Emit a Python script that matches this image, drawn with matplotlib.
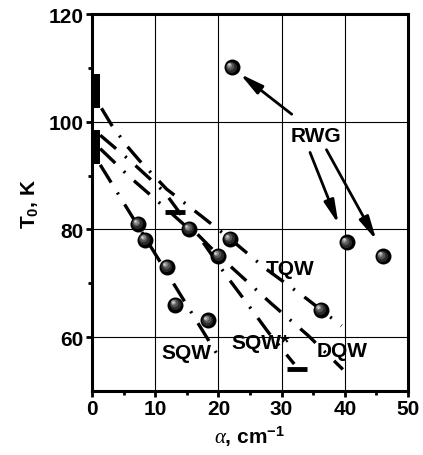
import matplotlib
matplotlib.use("Agg")
import matplotlib.pyplot as plt
from matplotlib.patches import Rectangle
from matplotlib import transforms

plt.rcParams['font.family'] = ['Liberation Sans', 'DejaVu Sans']
plt.rcParams['mathtext.fontset'] = 'custom'
plt.rcParams['mathtext.rm'] = 'Liberation Sans:bold'
plt.rcParams['mathtext.bf'] = 'Liberation Sans:bold'
plt.rcParams['mathtext.it'] = 'Liberation Serif:italic'
plt.rcParams['lines.scale_dashes'] = False

# ---------------- data ----------------
# measured points (alpha, T0)
sqw_x = [7.3, 8.4, 11.9, 13.2, 18.4]
sqw_y = [81.0, 78.1, 73.1, 66.0, 63.1]
other_x = [15.4, 20.0, 21.8, 36.2]
other_y = [80.1, 75.1, 78.2, 65.1]
rwg_x = [22.1, 40.3, 46.0]
rwg_y = [110.1, 77.6, 75.0]

# guide lines
sqw_line_x = [1.3, 20.5]
sqw_line_y = [92.0, 55.5]
sqws_line_x = [1.3, 6.0, 11.8, 17.4, 21.2, 24.2, 27.9, 32.0]
sqws_line_y = [95.0, 89.7, 83.8, 77.9, 71.5, 66.8, 60.9, 55.0]
dqw_line_x = [1.3, 6.2, 11.5, 15.5, 20.0, 28.4, 34.2, 39.7]
dqw_line_y = [97.5, 92.6, 86.9, 80.5, 75.2, 66.2, 60.3, 54.0]
tqw_line_x = [1.5, 3.1, 5.6, 7.5, 11.8, 17.4, 21.8, 27.5, 34.0, 39.5]
tqw_line_y = [102.5, 99.4, 95.4, 92.8, 87.5, 82.4, 78.3, 72.7, 67.1, 62.1]

# end bars (x0, x1, T)
bars = [(11.6, 14.7, 83.3), (30.8, 34.0, 54.1)]
# bars on the T axis (x0, width, T0, height)
axis_blocks = [(0.0, 1.3, 102.5, 6.3), (0.0, 1.3, 92.2, 6.3)]

# labels
labels = ["SQW", "SQW*", "DQW", "TQW", "RWG"]
label_x = [15.0, 26.6, 39.5, 31.3, 35.5]
label_y = [57.2, 59.0, 57.5, 72.8, 97.4]

# RWG arrows: (tail, head)
arrow_tails = [(31.6, 101.4), (34.5, 94.3), (37.1, 94.8)]
arrow_heads = [(23.4, 108.9), (39.0, 81.0), (45.0, 78.0)]

xticks = [0, 10, 20, 30, 40, 50]
yticks = [60, 80, 100, 120]

# ---------------- figure ----------------
fig = plt.figure(figsize=(4.23, 4.56), dpi=100)
ax = fig.add_axes([0.2175, 0.1404, 0.747, 0.8266])
ax.set_xlim(0, 50)
ax.set_ylim(50, 120)
ax.set_xticks(xticks)
ax.set_yticks(yticks)
ax.set_xticks([5, 15, 25, 35, 45], minor=True)
ax.set_yticks([70, 90, 110], minor=True)
ax.tick_params(which='major', direction='out', length=4, width=2, labelsize=15, pad=2)
ax.tick_params(which='minor', direction='out', length=3, width=2)
for lab in ax.get_xticklabels() + ax.get_yticklabels():
    lab.set_fontweight('bold')
for s in ax.spines.values():
    s.set_linewidth(2.2)
ax.grid(True, which='major', color='black', lw=0.8)
ax.set_axisbelow(True)

dash = (0, (15, 8.5, 1.5, 8.5))
lw = 2.4
for lx, ly in [(sqw_line_x, sqw_line_y), (sqws_line_x, sqws_line_y),
               (dqw_line_x, dqw_line_y), (tqw_line_x, tqw_line_y)]:
    ax.plot(lx, ly, color='black', lw=lw, linestyle=dash, solid_capstyle='butt',
            dash_capstyle='butt', zorder=3)

for x0, x1, t in bars:
    ax.plot([x0, x1], [t, t], color='black', lw=3.5, solid_capstyle='butt', zorder=3)

for x0, w, t0, h in axis_blocks:
    ax.add_patch(Rectangle((x0, t0), w, h, color='black', zorder=4, lw=0))

# sphere-like markers
allx = sqw_x + other_x + rwg_x
ally = sqw_y + other_y + rwg_y
ax.plot(allx, ally, 'o', color='black', ms=11.5, mec='black', mew=0, zorder=5)
for ms, col, off in [(8, '#2a2a2a', 0.6), (5.5, '#555555', 1.2), (3.5, '#8a8a8a', 1.7), (1.8, '#d0d0d0', 2.1)]:
    tr = transforms.offset_copy(ax.transData, fig=fig, x=-off, y=off, units='points')
    ax.plot(allx, ally, 'o', color=col, ms=ms, mew=0, transform=tr, zorder=6)

for (tx, ty), (hx, hy) in zip(arrow_tails, arrow_heads):
    ax.annotate('', xy=(hx, hy), xytext=(tx, ty),
                arrowprops=dict(arrowstyle='-|>,head_length=1.0,head_width=0.22',
                                lw=2, color='black', shrinkA=0, shrinkB=0,
                                mutation_scale=14), zorder=4)

for t, x, y in zip(labels, label_x, label_y):
    ax.text(x, y, t, fontsize=15, fontweight='bold', ha='center', va='center', zorder=7)

ax.set_xlabel(r'$\alpha$, cm$^{-1}$', fontsize=15, fontweight='bold', labelpad=4)
ax.set_ylabel(r'T$_{0}$, K', fontsize=15, fontweight='bold', labelpad=6)

fig.savefig('out.png', dpi=100)
